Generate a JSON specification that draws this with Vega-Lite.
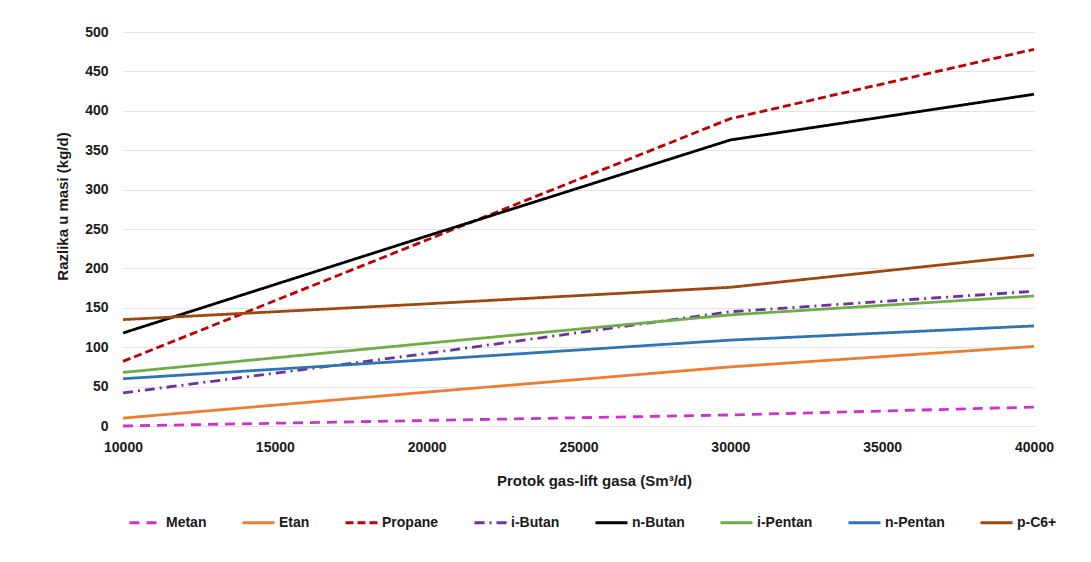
{
  "$schema": "https://vega.github.io/schema/vega-lite/v6.json",
  "width": 911,
  "height": 394,
  "autosize": "none",
  "padding": {"left": 123, "top": 32, "right": 57, "bottom": 136},
  "background": "white",
  "data": {
    "values": [
      {"flow": 10000, "component": "Metan", "value": 0},
      {"flow": 20000, "component": "Metan", "value": 7},
      {"flow": 30000, "component": "Metan", "value": 14},
      {"flow": 40000, "component": "Metan", "value": 24},
      {"flow": 10000, "component": "Etan", "value": 10},
      {"flow": 20000, "component": "Etan", "value": 43},
      {"flow": 30000, "component": "Etan", "value": 75},
      {"flow": 40000, "component": "Etan", "value": 101},
      {"flow": 10000, "component": "Propane", "value": 82},
      {"flow": 20000, "component": "Propane", "value": 236},
      {"flow": 30000, "component": "Propane", "value": 390},
      {"flow": 40000, "component": "Propane", "value": 478},
      {"flow": 10000, "component": "i-Butan", "value": 42},
      {"flow": 20000, "component": "i-Butan", "value": 92},
      {"flow": 30000, "component": "i-Butan", "value": 145},
      {"flow": 40000, "component": "i-Butan", "value": 171},
      {"flow": 10000, "component": "n-Butan", "value": 118},
      {"flow": 20000, "component": "n-Butan", "value": 241},
      {"flow": 30000, "component": "n-Butan", "value": 363},
      {"flow": 40000, "component": "n-Butan", "value": 421},
      {"flow": 10000, "component": "i-Pentan", "value": 68},
      {"flow": 20000, "component": "i-Pentan", "value": 105},
      {"flow": 30000, "component": "i-Pentan", "value": 141},
      {"flow": 40000, "component": "i-Pentan", "value": 165},
      {"flow": 10000, "component": "n-Pentan", "value": 60},
      {"flow": 20000, "component": "n-Pentan", "value": 84},
      {"flow": 30000, "component": "n-Pentan", "value": 109},
      {"flow": 40000, "component": "n-Pentan", "value": 127},
      {"flow": 10000, "component": "p-C6+", "value": 135},
      {"flow": 20000, "component": "p-C6+", "value": 155},
      {"flow": 30000, "component": "p-C6+", "value": 176},
      {"flow": 40000, "component": "p-C6+", "value": 217}
    ]
  },
  "mark": {"type": "line", "interpolate": "linear", "strokeWidth": 2.8, "strokeJoin": "round"},
  "encoding": {
    "x": {
      "field": "flow",
      "type": "quantitative",
      "scale": {"domain": [10000, 40000], "nice": false, "zero": false},
      "axis": {
        "title": "Protok gas-lift gasa (Sm³/d)",
        "values": [10000, 15000, 20000, 25000, 30000, 35000, 40000],
        "format": "d",
        "grid": false,
        "domain": false,
        "ticks": false,
        "labelPadding": 14,
        "labelFontSize": 14,
        "labelFontWeight": "bold",
        "labelColor": "#1a1a1a",
        "labelFlush": false,
        "titleFontSize": 15,
        "titleFontWeight": "bold",
        "titleColor": "#1a1a1a",
        "titleX": 471,
        "titleY": 54,
        "titleBaseline": "middle"
      }
    },
    "y": {
      "field": "value",
      "type": "quantitative",
      "scale": {"domain": [0, 500], "nice": false},
      "axis": {
        "title": "Razlika u masi (kg/d)",
        "values": [0, 50, 100, 150, 200, 250, 300, 350, 400, 450, 500],
        "grid": true,
        "gridColor": "#e4e4e4",
        "gridWidth": 1,
        "domain": false,
        "ticks": false,
        "labelPadding": 15,
        "labelFontSize": 14,
        "labelFontWeight": "bold",
        "labelColor": "#1a1a1a",
        "titleFontSize": 15,
        "titleFontWeight": "bold",
        "titleColor": "#1a1a1a",
        "titleX": -61,
        "titleY": 174,
        "titleBaseline": "middle",
        "titleAngle": -90
      }
    },
    "color": {
      "field": "component",
      "type": "nominal",
      "sort": null,
      "scale": {
        "domain": ["Metan", "Etan", "Propane", "i-Butan", "n-Butan", "i-Pentan", "n-Pentan", "p-C6+"],
        "range": ["#CC33CC", "#ED7D31", "#C00000", "#7030A0", "#000000", "#70AD47", "#2E75B6", "#9E480E"]
      },
      "legend": {
        "title": null,
        "orient": "none",
        "legendX": 5,
        "legendY": 473,
        "direction": "horizontal",
        "columns": 8,
        "columnPadding": 29,
        "symbolType": "stroke",
        "symbolSize": 1024,
        "symbolStrokeWidth": 3,
        "labelFontSize": 14,
        "labelFontWeight": "bold",
        "labelColor": "#1a1a1a",
        "labelOffset": 3
      }
    },
    "strokeDash": {
      "field": "component",
      "type": "nominal",
      "sort": null,
      "scale": {
        "domain": ["Metan", "Etan", "Propane", "i-Butan", "n-Butan", "i-Pentan", "n-Pentan", "p-C6+"],
        "range": [[10, 7], [1, 0], [8, 4], [10, 5, 2, 5], [1, 0], [1, 0], [1, 0], [1, 0]]
      },
      "legend": {
        "title": null,
        "orient": "none",
        "legendX": 5,
        "legendY": 473,
        "direction": "horizontal",
        "columns": 8,
        "columnPadding": 29,
        "symbolType": "stroke",
        "symbolSize": 1024,
        "symbolStrokeWidth": 3,
        "labelFontSize": 14,
        "labelFontWeight": "bold",
        "labelColor": "#1a1a1a",
        "labelOffset": 3
      }
    }
  },
  "config": {
    "view": {"stroke": null},
    "font": "Liberation Sans"
  }
}
